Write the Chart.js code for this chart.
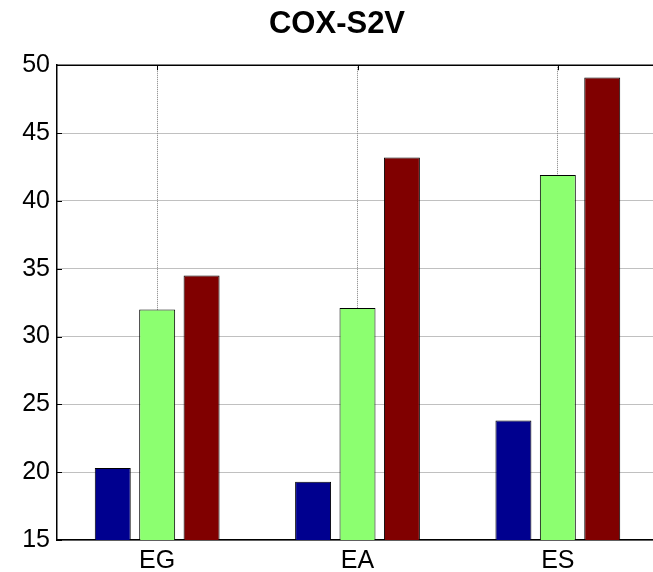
<!DOCTYPE html>
<html>
<head>
<meta charset="utf-8">
<script src="https://cdn.jsdelivr.net/npm/chart.js@4/dist/chart.umd.min.js"></script>
<style>
html,body{margin:0;padding:0;background:#fff;overflow:hidden;width:653px;height:572px;}
#wrap{position:absolute;left:0;top:0;width:670px;height:572px;}
</style>
</head>
<body>
<div id="wrap"><canvas id="c" width="670" height="572"></canvas></div>
<script>
const title = 'COX-S2V';
const categories = ['EG', 'EA', 'ES'];
const series1 = [20.3, 19.3, 23.8];
const series2 = [32.0, 32.1, 41.9];
const series3 = [34.5, 43.2, 49.1];
const yMin = 15, yMax = 50, yStep = 5;
const colors = ['#00008F', '#8CFF70', '#800000'];

const FONT = '"Liberation Sans", Arial, Helvetica, sans-serif';

const innerTicks = {
  id: 'innerTicks',
  afterDatasetsDraw(chart) {
    const ctx = chart.ctx, a = chart.chartArea;
    const y = chart.scales.y, x = chart.scales.x;
    ctx.save();
    ctx.strokeStyle = '#000';
    ctx.lineWidth = 1.5;
    ctx.beginPath();
    ctx.moveTo(a.left, a.top);
    ctx.lineTo(a.right, a.top);
    ctx.stroke();
    ctx.lineWidth = 1;
    ctx.beginPath();
    y.ticks.forEach((t, i) => {
      const py = Math.round(y.getPixelForTick(i)) + 0.5;
      ctx.moveTo(a.left, py); ctx.lineTo(a.left + 5, py);
    });
    x.ticks.forEach((t, i) => {
      const px = Math.round(x.getPixelForTick(i)) + 0.5;
      ctx.moveTo(px, a.top); ctx.lineTo(px, a.top + 5);
    });
    ctx.stroke();
    ctx.restore();
  }
};

new Chart(document.getElementById('c'), {
  type: 'bar',
  data: {
    labels: categories,
    datasets: [series1, series2, series3].map((d, i) => ({
      data: d,
      backgroundColor: colors[i],
      borderColor: '#000',
      borderWidth: 1,
      categoryPercentage: 0.665,
      barPercentage: 0.81
    }))
  },
  options: {
    responsive: false,
    animation: false,
    layout: { padding: { left: 16, right: 12, top: 0, bottom: 0 } },
    plugins: {
      legend: { display: false },
      tooltip: { enabled: false },
      title: {
        display: true,
        text: title,
        color: '#000',
        font: { family: FONT, size: 31, weight: 'bold' },
        padding: { top: 6, bottom: 22 }
      }
    },
    scales: {
      x: {
        grid: { offset: false, color: '#808080', drawTicks: false, lineWidth: 1 },
        border: { display: true, color: '#000', width: 1.5, dash: [1, 1] },
        ticks: { color: '#000', font: { family: FONT, size: 25 }, padding: 6 },
        afterFit: s => { s.height = 32; }
      },
      y: {
        min: yMin, max: yMax,
        grid: { color: '#808080', drawTicks: false, lineWidth: 1 },
        border: { display: true, color: '#000', width: 1.5, dash: [1, 1] },
        ticks: { stepSize: yStep, color: '#000', font: { family: FONT, size: 25 }, padding: 7 },
        afterFit: s => { s.width = 41; }
      }
    }
  },
  plugins: [innerTicks]
});
</script>
</body>
</html>
